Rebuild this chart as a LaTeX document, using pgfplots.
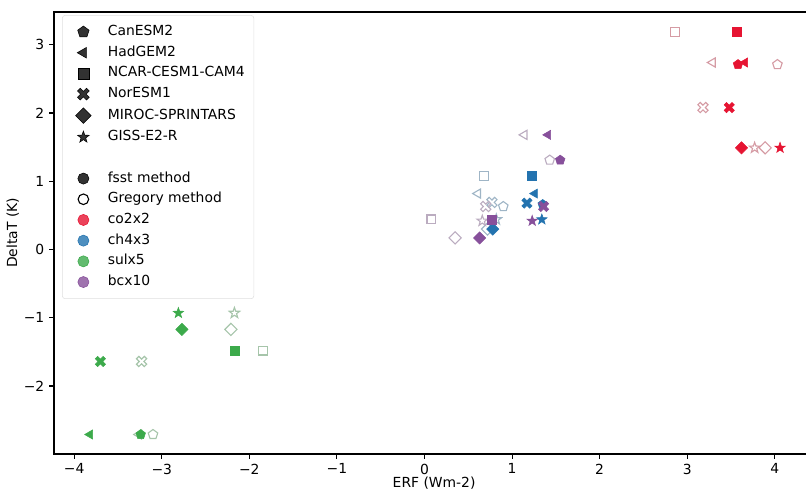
\documentclass[border=0pt]{standalone}
\usepackage{fontspec}
\setmainfont{DejaVu Sans}
\usepackage{pgfplots}
\pgfplotsset{compat=1.18}

\definecolor{cred}{RGB}{230,20,50}
\definecolor{cblue}{RGB}{35,115,175}
\definecolor{cgreen}{RGB}{60,170,75}
\definecolor{cpurp}{RGB}{135,80,155}

\newcommand\pathTri{%
 \pgfpathmoveto{\pgfqpointpolar{180}{\pgfplotmarksize}}%
 \pgfpathlineto{\pgfqpointpolar{60}{\pgfplotmarksize}}%
 \pgfpathlineto{\pgfqpointpolar{-60}{\pgfplotmarksize}}%
 \pgfpathclose}
\newcommand\pathDia{%
 \pgfpathmoveto{\pgfqpointpolar{0}{\pgfplotmarksize}}%
 \pgfpathlineto{\pgfqpointpolar{90}{\pgfplotmarksize}}%
 \pgfpathlineto{\pgfqpointpolar{180}{\pgfplotmarksize}}%
 \pgfpathlineto{\pgfqpointpolar{270}{\pgfplotmarksize}}%
 \pgfpathclose}
\newcommand\pathX{%
 \pgftransformrotate{45}%
 \pgfpathmoveto{\pgfqpoint{0.3\pgfplotmarksize}{\pgfplotmarksize}}%
 \pgfpathlineto{\pgfqpoint{0.3\pgfplotmarksize}{0.3\pgfplotmarksize}}%
 \pgfpathlineto{\pgfqpoint{\pgfplotmarksize}{0.3\pgfplotmarksize}}%
 \pgfpathlineto{\pgfqpoint{\pgfplotmarksize}{-0.3\pgfplotmarksize}}%
 \pgfpathlineto{\pgfqpoint{0.3\pgfplotmarksize}{-0.3\pgfplotmarksize}}%
 \pgfpathlineto{\pgfqpoint{0.3\pgfplotmarksize}{-\pgfplotmarksize}}%
 \pgfpathlineto{\pgfqpoint{-0.3\pgfplotmarksize}{-\pgfplotmarksize}}%
 \pgfpathlineto{\pgfqpoint{-0.3\pgfplotmarksize}{-0.3\pgfplotmarksize}}%
 \pgfpathlineto{\pgfqpoint{-\pgfplotmarksize}{-0.3\pgfplotmarksize}}%
 \pgfpathlineto{\pgfqpoint{-\pgfplotmarksize}{0.3\pgfplotmarksize}}%
 \pgfpathlineto{\pgfqpoint{-0.3\pgfplotmarksize}{0.3\pgfplotmarksize}}%
 \pgfpathlineto{\pgfqpoint{-0.3\pgfplotmarksize}{\pgfplotmarksize}}%
 \pgfpathclose}
\newcommand\pathStar{%
 \pgfpathmoveto{\pgfqpointpolar{90}{\pgfplotmarksize}}%
 \pgfpathlineto{\pgfqpointpolar{126}{0.4\pgfplotmarksize}}%
 \pgfpathlineto{\pgfqpointpolar{162}{\pgfplotmarksize}}%
 \pgfpathlineto{\pgfqpointpolar{198}{0.4\pgfplotmarksize}}%
 \pgfpathlineto{\pgfqpointpolar{234}{\pgfplotmarksize}}%
 \pgfpathlineto{\pgfqpointpolar{270}{0.4\pgfplotmarksize}}%
 \pgfpathlineto{\pgfqpointpolar{306}{\pgfplotmarksize}}%
 \pgfpathlineto{\pgfqpointpolar{342}{0.4\pgfplotmarksize}}%
 \pgfpathlineto{\pgfqpointpolar{18}{\pgfplotmarksize}}%
 \pgfpathlineto{\pgfqpointpolar{54}{0.4\pgfplotmarksize}}%
 \pgfpathclose}
\pgfdeclareplotmark{tril*}{\pathTri\pgfusepathqfillstroke}
\pgfdeclareplotmark{tril}{\pathTri\pgfusepathqstroke}
\pgfdeclareplotmark{dia*}{\pathDia\pgfusepathqfillstroke}
\pgfdeclareplotmark{dia}{\pathDia\pgfusepathqstroke}
\pgfdeclareplotmark{Xm*}{\pathX\pgfusepathqfillstroke}
\pgfdeclareplotmark{Xm}{\pathX\pgfusepathqstroke}
\pgfdeclareplotmark{st*}{\pathStar\pgfusepathqfillstroke}
\pgfdeclareplotmark{st}{\pathStar\pgfusepathqstroke}

\pgfplotsset{
 Can/.style={mark=pentagon#1, mark size=3.6pt},
 Had/.style={mark=tril#1, mark size=3.8pt},
 NCAR/.style={mark=square#1, mark size=3.2pt},
 Nor/.style={mark=Xm#1, mark size=4.0pt},
 MIR/.style={mark=dia#1, mark size=4.4pt},
 GIS/.style={mark=st#1, mark size=4.0pt},
 fs/.style={only marks, color=#1, fill=#1, line width=0.4pt, forget plot},
 gr/.style={only marks, color=#1!50!gray!55!white, line width=0.8pt, forget plot},
}

\begin{document}
\begin{tikzpicture}
\begin{axis}[
 scale only axis,
 width=547.3pt, height=318.2pt,
 xmin=-4.23, xmax=4.45, ymin=-2.995, ymax=3.48,
 xtick={-4,-3,-2,-1,0,1,2,3,4},
 xticklabels={−4,−3,−2,−1,0,1,2,3,4},
 ytick={-3,-2,-1,0,1,2,3},
 yticklabels={−3,−2,−1,0,1,2,3},
 tick align=outside, xtick pos=lower, ytick pos=left,
 major tick length=3.5pt,
 tick style={line width=0.8pt, black},
 axis line style={line width=0.8pt},
 xlabel={ERF (Wm-2)}, ylabel={DeltaT (K)},
 xlabel style={at={(axis description cs:0.5,-0.075)}, anchor=base, inner sep=0pt},
 ylabel style={at={(axis description cs:-0.0486,0.5)}, anchor=base, inner sep=0pt},
 legend cell align=left,
 legend style={at={(0.0106,0.993)}, anchor=north west, draw=black!12,
   rounded corners=2pt, fill=white, fill opacity=0.8, text opacity=1,
   inner xsep=6.6pt, inner ysep=7pt, row sep=4.9pt, column sep=12pt,
   nodes={inner sep=0pt, text height=7.5pt, text depth=2.5pt}},
]
\addlegendimage{only marks, black, fill=black, Can=*, mark size=4.3pt}
\addlegendentry{CanESM2}
\addlegendimage{only marks, black, fill=black, Had=*, mark size=4.4pt}
\addlegendentry{HadGEM2}
\addlegendimage{only marks, black, fill=black, NCAR=*, mark size=3.9pt}
\addlegendentry{NCAR-CESM1-CAM4}
\addlegendimage{only marks, black, fill=black, Nor=*, mark size=4.6pt}
\addlegendentry{NorESM1}
\addlegendimage{only marks, black, fill=black, MIR=*, mark size=5.6pt}
\addlegendentry{MIROC-SPRINTARS}
\addlegendimage{only marks, black, fill=black, GIS=*, mark size=4.4pt}
\addlegendentry{GISS-E2-R}
\addlegendimage{empty legend}
\addlegendentry{}
\addlegendimage{only marks, black, fill=black, mark=*, mark size=4pt}
\addlegendentry{fsst method}
\addlegendimage{only marks, black, mark=o, mark size=3.8pt, line width=0.8pt}
\addlegendentry{Gregory method}
\addlegendimage{only marks, cred, fill=cred, mark=*, mark size=4pt}
\addlegendentry{co2x2}
\addlegendimage{only marks, cblue, fill=cblue, mark=*, mark size=4pt}
\addlegendentry{ch4x3}
\addlegendimage{only marks, cgreen, fill=cgreen, mark=*, mark size=4pt}
\addlegendentry{sulx5}
\addlegendimage{only marks, cpurp, fill=cpurp, mark=*, mark size=4pt}
\addlegendentry{bcx10}

% co2x2 Gregory
\addplot[gr=cred, Can=] coordinates {(4.03,2.71)};
\addplot[gr=cred, Had=] coordinates {(3.29,2.74)};
\addplot[gr=cred, NCAR=] coordinates {(2.86,3.19)};
\addplot[gr=cred, Nor=] coordinates {(3.18,2.08)};
\addplot[gr=cred, MIR=] coordinates {(3.89,1.49)};
\addplot[gr=cred, GIS=] coordinates {(3.77,1.49)};
% ch4x3 Gregory
\addplot[gr=cblue, NCAR=] coordinates {(0.68,1.08)};
\addplot[gr=cblue, Had=] coordinates {(0.61,0.82)};
\addplot[gr=cblue, Nor=] coordinates {(0.77,0.69)};
\addplot[gr=cblue, Can=] coordinates {(0.90,0.63)};
\addplot[gr=cblue, GIS=] coordinates {(0.82,0.44)};
\addplot[gr=cblue, MIR=] coordinates {(0.72,0.30)};
% bcx10 Gregory
\addplot[gr=cpurp, Had=] coordinates {(1.14,1.68)};
\addplot[gr=cpurp, Can=] coordinates {(1.43,1.31)};
\addplot[gr=cpurp, Nor=] coordinates {(0.70,0.63)};
\addplot[gr=cpurp, GIS=] coordinates {(0.66,0.42)};
\addplot[gr=cpurp, NCAR=] coordinates {(0.08,0.44)};
\addplot[gr=cpurp, MIR=] coordinates {(0.35,0.17)};
% sulx5 Gregory
\addplot[gr=cgreen, GIS=] coordinates {(-2.17,-0.93)};
\addplot[gr=cgreen, MIR=] coordinates {(-2.21,-1.17)};
\addplot[gr=cgreen, NCAR=] coordinates {(-1.84,-1.48)};
\addplot[gr=cgreen, Nor=] coordinates {(-3.23,-1.64)};
\addplot[gr=cgreen, Had=] coordinates {(-3.26,-2.71)};
\addplot[gr=cgreen, Can=] coordinates {(-3.10,-2.71)};

% co2x2 fsst
\addplot[fs=cred, Can=*] coordinates {(3.58,2.71)};
\addplot[fs=cred, Had=*] coordinates {(3.66,2.74)};
\addplot[fs=cred, NCAR=*] coordinates {(3.57,3.19)};
\addplot[fs=cred, Nor=*] coordinates {(3.48,2.08)};
\addplot[fs=cred, MIR=*] coordinates {(3.62,1.49)};
\addplot[fs=cred, GIS=*] coordinates {(4.06,1.49)};
% ch4x3 fsst
\addplot[fs=cblue, NCAR=*] coordinates {(1.23,1.08)};
\addplot[fs=cblue, Had=*] coordinates {(1.26,0.82)};
\addplot[fs=cblue, Nor=*] coordinates {(1.17,0.68)};
\addplot[fs=cblue, Can=*] coordinates {(1.35,0.66)};
\addplot[fs=cblue, GIS=*] coordinates {(1.34,0.44)};
\addplot[fs=cblue, MIR=*] coordinates {(0.78,0.30)};
% bcx10 fsst
\addplot[fs=cpurp, Had=*] coordinates {(1.41,1.68)};
\addplot[fs=cpurp, Can=*] coordinates {(1.55,1.31)};
\addplot[fs=cpurp, Nor=*] coordinates {(1.36,0.63)};
\addplot[fs=cpurp, GIS=*] coordinates {(1.23,0.42)};
\addplot[fs=cpurp, NCAR=*] coordinates {(0.77,0.44)};
\addplot[fs=cpurp, MIR=*] coordinates {(0.63,0.17)};
% sulx5 fsst
\addplot[fs=cgreen, GIS=*] coordinates {(-2.81,-0.93)};
\addplot[fs=cgreen, MIR=*] coordinates {(-2.77,-1.17)};
\addplot[fs=cgreen, NCAR=*] coordinates {(-2.17,-1.48)};
\addplot[fs=cgreen, Nor=*] coordinates {(-3.70,-1.64)};
\addplot[fs=cgreen, Had=*] coordinates {(-3.82,-2.71)};
\addplot[fs=cgreen, Can=*] coordinates {(-3.24,-2.71)};
\end{axis}
\pgfresetboundingbox
\useasboundingbox ([shift={(-38.9pt,-28.8pt)}]current axis.south west) rectangle ([shift={(541.4pt,8.64pt)}]current axis.north west);
\end{tikzpicture}
\end{document}
